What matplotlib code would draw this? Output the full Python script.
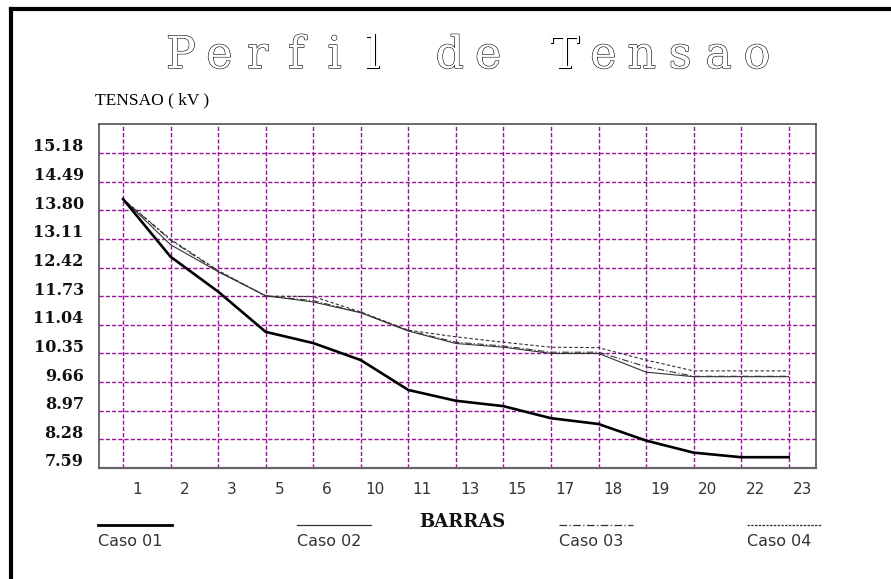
import matplotlib
matplotlib.use("Agg")
import matplotlib.pyplot as plt
import matplotlib.transforms as mtransforms
import matplotlib.patheffects as pe
from matplotlib.lines import Line2D

# bus labels on the x axis
barras = ["1", "2", "3", "5", "6", "10", "11", "13", "15", "17", "18", "19", "20", "22", "23"]

# voltages (kV)
caso01 = [14.07, 12.68, 11.84, 10.87, 10.60, 10.19, 9.47, 9.21, 9.08, 8.79, 8.65, 8.25, 7.96, 7.85, 7.85]
caso02 = [14.07, 12.97, 12.32, 11.74, 11.59, 11.33, 10.89, 10.59, 10.50, 10.35, 10.35, 9.90, 9.79, 9.79, 9.79]
caso03 = [14.07, 13.08, 12.33, 11.74, 11.62, 11.34, 10.90, 10.62, 10.53, 10.38, 10.38, 10.03, 9.80, 9.80, 9.80]
caso04 = [14.07, 13.10, 12.35, 11.73, 11.72, 11.35, 10.91, 10.75, 10.62, 10.50, 10.49, 10.19, 9.93, 9.93, 9.93]

yticks = [7.59, 8.28, 8.97, 9.66, 10.35, 11.04, 11.73, 12.42, 13.11, 13.80, 14.49, 15.18]

title = "Perfil de Tensao"

W, H = 891, 579
fig = plt.figure(figsize=(W / 100, H / 100), dpi=100)
ax = fig.add_axes([99 / W, (H - 468) / H, (816 - 99) / W, (468 - 124) / H])

x = list(range(len(barras)))
ax.plot(x, caso01, color="black", lw=1.9, zorder=5)
ax.plot(x, caso02, color="#333333", lw=0.8, zorder=4)
ax.plot(x, caso03, color="#333333", lw=0.8, ls=(0, (6, 2, 1, 2)), zorder=4)
ax.plot(x, caso04, color="#333333", lw=0.8, ls=(0, (3, 2)), zorder=4)

ax.set_xlim(-0.505, 14.574)
ax.set_ylim(7.59, 15.878)
ax.set_xticks(x)
ax.set_xticklabels(barras, fontsize=11, color="#333333", family="DejaVu Sans")
ax.set_yticks(yticks)
ax.set_yticklabels(["%.2f" % v for v in yticks], fontsize=11.5, fontweight="bold",
                   family="DejaVu Serif", color="#111111")
ax.tick_params(axis="x", length=0, pad=10)
ax.tick_params(axis="y", length=0, pad=11)

# tick labels sit a bit off their grid lines in the original
dx = mtransforms.ScaledTranslation(14 / 100, 0, fig.dpi_scale_trans)
for lab in ax.get_xticklabels():
    lab.set_transform(lab.get_transform() + dx)
dy = mtransforms.ScaledTranslation(0, 8 / 100, fig.dpi_scale_trans)
for lab in ax.get_yticklabels():
    lab.set_transform(lab.get_transform() + dy)

ax.grid(True, color="#9a119a", lw=1.0, ls=(0, (3, 1.5)))
ax.set_axisbelow(True)
for s in ["top", "left", "right"]:
    ax.spines[s].set_color("#444444")
    ax.spines[s].set_linewidth(1.1)
ax.spines["bottom"].set_color("#666666")
ax.spines["bottom"].set_linewidth(1.6)

# title in outline lettering, one character per fixed-width cell
outline = [pe.withStroke(linewidth=0.8, foreground="black")]
for i, ch in enumerate(title):
    fig.text((181 + 38.4 * i) / W, (H - 68) / H, ch, family="DejaVu Serif", fontsize=32,
             ha="center", va="baseline", color="white", path_effects=outline)

fig.text(95 / W, (H - 100) / H, "TENSAO ( kV )", family="Liberation Serif", fontsize=12.5,
         ha="left", va="center", color="black")
fig.text(462 / W, (H - 522) / H, "BARRAS", family="DejaVu Serif", fontweight="bold",
         fontsize=13, ha="center", va="center", color="#111111")

# legend: sample line above each label
legend = [("Caso 01", 98, dict(color="black", lw=2.0)),
          ("Caso 02", 297, dict(color="#333333", lw=0.9)),
          ("Caso 03", 559, dict(color="#333333", lw=0.9, ls=(0, (6, 2, 1, 2)))),
          ("Caso 04", 747, dict(color="#333333", lw=0.9, ls=(0, (2, 1))))]
for name, x0, style in legend:
    fig.add_artist(Line2D([x0 / W, (x0 + 74) / W], [(H - 525) / H] * 2,
                          transform=fig.transFigure, **style))
    fig.text(x0 / W, (H - 542) / H, name, family="DejaVu Sans", fontsize=11.5,
             ha="left", va="center", color="#333333")

# black frame cut at the right and bottom edges
fig.add_artist(Line2D([11 / W, 11 / W], [0, (H - 9) / H], transform=fig.transFigure,
                      color="black", lw=3.0, solid_capstyle="projecting"))
fig.add_artist(Line2D([11 / W, 1], [(H - 9) / H] * 2, transform=fig.transFigure,
                      color="black", lw=3.0, solid_capstyle="projecting"))

fig.savefig("out.png", dpi=100)
